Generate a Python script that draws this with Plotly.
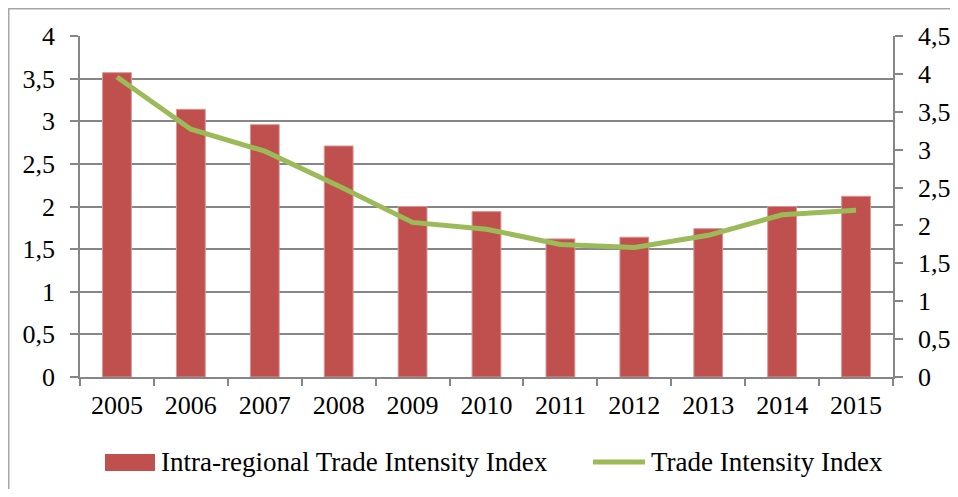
import plotly.graph_objects as go

years = ["2005", "2006", "2007", "2008", "2009", "2010", "2011", "2012", "2013", "2014", "2015"]
intra_regional = [3.57, 3.14, 2.96, 2.71, 2.00, 1.94, 1.62, 1.64, 1.74, 2.00, 2.12]
trade_intensity = [3.96, 3.27, 2.98, 2.52, 2.04, 1.95, 1.75, 1.71, 1.87, 2.14, 2.20]

left_ticks = [0, 0.5, 1, 1.5, 2, 2.5, 3, 3.5, 4]
right_ticks = [0, 0.5, 1, 1.5, 2, 2.5, 3, 3.5, 4, 4.5]

series_names = ["Intra-regional Trade Intensity Index", "Trade Intensity Index"]
BAR_COLOR = "#C0504D"
LINE_COLOR = "#9BBB59"

def fmt(v):
    return ("%g" % v).replace(".", ",")

FONT = "Liberation Serif, Times New Roman, serif"
GRID = "#868686"
FS = 26

# figure is placed by the page at (8, 8); plot area spans 813 x 341 px
W, H = 950, 481
L, T, PW, PH = 72, 28, 813, 341

fig = go.Figure()
fig.add_trace(go.Bar(
    x=years, y=intra_regional, name=series_names[0],
    marker=dict(color=BAR_COLOR, line=dict(color="#D99694", width=1)),
    yaxis="y", showlegend=False,
))
fig.add_trace(go.Scatter(
    x=years, y=trade_intensity, name=series_names[1],
    mode="lines", line=dict(color=LINE_COLOR, width=5),
    yaxis="y2", showlegend=False,
))

common_y = dict(
    showline=True, linecolor=GRID, linewidth=1.5,
    ticks="outside", ticklen=8, tickcolor=GRID, tickwidth=1.5,
    zeroline=False, automargin=False, ticklabelstandoff=10,
    tickfont=dict(family=FONT, size=FS, color="black"),
)

def px(x):  # figure pixel -> paper x
    return (x - L) / PW

def py(y):  # figure pixel -> paper y
    return (T + PH - y) / PH

fig.update_layout(
    width=W, height=H,
    margin=dict(l=L, r=W - L - PW, t=T, b=H - T - PH),
    paper_bgcolor="white", plot_bgcolor="white",
    font=dict(family=FONT, size=FS, color="black"),
    bargap=0.61,
    showlegend=False,
    xaxis=dict(
        type="category", showline=True, linecolor=GRID, linewidth=1.5,
        ticks="outside", tickson="boundaries", ticklen=7, tickcolor=GRID, tickwidth=1.5,
        showgrid=False, automargin=False, ticklabelstandoff=4,
        tickfont=dict(family=FONT, size=FS, color="black"),
    ),
    yaxis=dict(
        range=[0, 4], tickvals=left_ticks, ticktext=[fmt(v) for v in left_ticks],
        showgrid=True, gridcolor=GRID, gridwidth=1.5, **common_y,
    ),
    yaxis2=dict(
        range=[0, 4.5], tickvals=right_ticks, ticktext=[fmt(v) for v in right_ticks],
        overlaying="y", side="right", showgrid=False, **common_y,
    ),
    shapes=[
        dict(type="rect", xref="paper", yref="paper",
             x0=px(0.75), x1=px(W + 20), y0=py(H + 20), y1=py(0.75),
             line=dict(color="#A6A6A6", width=1.5), layer="below"),
        # legend symbols
        dict(type="rect", xref="paper", yref="paper",
             x0=px(97), x1=px(147), y0=py(463), y1=py(446),
             fillcolor=BAR_COLOR, line=dict(width=0)),
        dict(type="line", xref="paper", yref="paper",
             x0=px(585), x1=px(637), y0=py(454), y1=py(454),
             line=dict(color=LINE_COLOR, width=5)),
    ],
    annotations=[
        dict(xref="paper", yref="paper", x=px(151), y=py(454), xanchor="left", yanchor="middle",
             text=series_names[0], showarrow=False, font=dict(family=FONT, size=27, color="black")),
        dict(xref="paper", yref="paper", x=px(641), y=py(454), xanchor="left", yanchor="middle",
             text=series_names[1], showarrow=False, font=dict(family=FONT, size=27, color="black")),
    ],
)

fig.write_html("out.html")
